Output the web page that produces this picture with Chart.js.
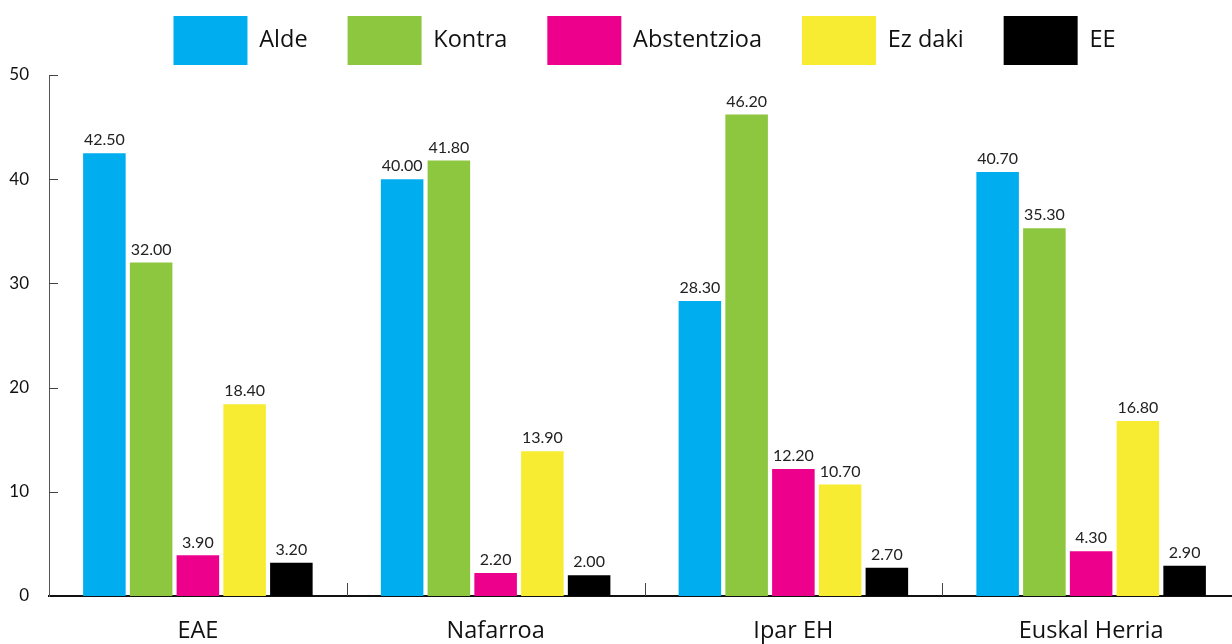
<!DOCTYPE html>
<html>
<head>
<meta charset="utf-8">
<script src="https://cdn.jsdelivr.net/npm/chart.js@4/dist/chart.umd.min.js"></script>
<style>
  html, body { margin: 0; padding: 0; background: #fff; overflow: hidden; }
  #wrap { width: 1240px; height: 644px; }
</style>
</head>
<body>
<div id="wrap"><canvas id="barChart"></canvas></div>
<script>
const regions = ['EAE', 'Nafarroa', 'Ipar EH', 'Euskal Herria'];
const alde = [42.5, 40.0, 28.3, 40.7];
const kontra = [32.0, 41.8, 46.2, 35.3];
const abstentzioa = [3.9, 2.2, 12.2, 4.3];
const ezDaki = [18.4, 13.9, 10.7, 16.8];
const ee = [3.2, 2.0, 2.7, 2.9];
const yTicks = [0, 10, 20, 30, 40, 50];

const FONT = 'Lato, "Open Sans", sans-serif';
const TEXT_FONT = '"Open Sans", Lato, sans-serif';

// value labels above every bar
const valueLabels = {
    id: 'valueLabels',
    afterDatasetsDraw(chart) {
        const ctx = chart.ctx;
        ctx.save();
        ctx.font = '16px ' + FONT;
        ctx.fillStyle = '#222';
        ctx.textAlign = 'center';
        ctx.textBaseline = 'bottom';
        chart.data.datasets.forEach((ds, i) => {
            chart.getDatasetMeta(i).data.forEach((bar, j) => {
                ctx.fillText(ds.data[j].toFixed(2), bar.x, bar.y - 5);
            });
        });
        ctx.restore();
    }
};

// inner tick marks on both axes
const axisTicks = {
    id: 'axisTicks',
    afterDraw(chart) {
        const ctx = chart.ctx;
        const x = chart.scales.x, y = chart.scales.y;
        ctx.save();
        ctx.strokeStyle = '#444';
        ctx.lineWidth = 1;
        ctx.beginPath();
        yTicks.forEach(v => {
            if (v === 0) return;
            const py = Math.round(y.getPixelForValue(v)) + 0.5;
            ctx.moveTo(x.left, py);
            ctx.lineTo(x.left + 9, py);
        });
        for (let i = 0; i < regions.length - 1; i++) {
            const px = Math.round((x.getPixelForTick(i) + x.getPixelForTick(i + 1)) / 2) + 0.5;
            ctx.moveTo(px, y.bottom);
            ctx.lineTo(px, y.bottom - 13);
        }
        ctx.stroke();
        ctx.restore();
    }
};

const series = [
    ['Alde', alde, '#00aeef'],
    ['Kontra', kontra, '#8dc63f'],
    ['Abstentzioa', abstentzioa, '#ec008c'],
    ['Ez daki', ezDaki, '#f7ec31'],
    ['EE', ee, '#000000']
];

new Chart(document.getElementById('barChart'), {
    type: 'bar',
    data: {
        labels: regions,
        datasets: series.map(s => ({
            label: s[0],
            data: s[1],
            backgroundColor: s[2],
            borderWidth: 0,
            categoryPercentage: 0.785,
            barPercentage: 0.91
        }))
    },
    options: {
        responsive: true,
        maintainAspectRatio: false,
        animation: false,
        layout: { padding: { top: -24, right: 0, left: 0, bottom: 0 } },
        plugins: {
            tooltip: { enabled: false },
            legend: {
                position: 'top',
                fullSize: false,
                labels: {
                    boxWidth: 74,
                    boxHeight: 49,
                    padding: 40,
                    color: '#111',
                    font: { family: TEXT_FONT, size: 23.5 }
                }
            }
        },
        scales: {
            x: {
                grid: { display: false, drawTicks: false },
                border: { display: true, color: '#111', width: 2 },
                ticks: { color: '#111', padding: 21, font: { family: TEXT_FONT, size: 23.5 } },
                afterFit(scale) { scale.height = 48; }
            },
            y: {
                min: 0,
                max: 50,
                afterBuildTicks(scale) { scale.ticks = yTicks.map(v => ({ value: v })); },
                grid: { display: false, drawTicks: false },
                border: { display: true, color: '#555', width: 1 },
                ticks: { color: '#111', padding: 20, font: { family: FONT, size: 17 } },
                afterFit(scale) { scale.width = 49; }
            }
        }
    },
    plugins: [valueLabels, axisTicks]
});
</script>
</body>
</html>
